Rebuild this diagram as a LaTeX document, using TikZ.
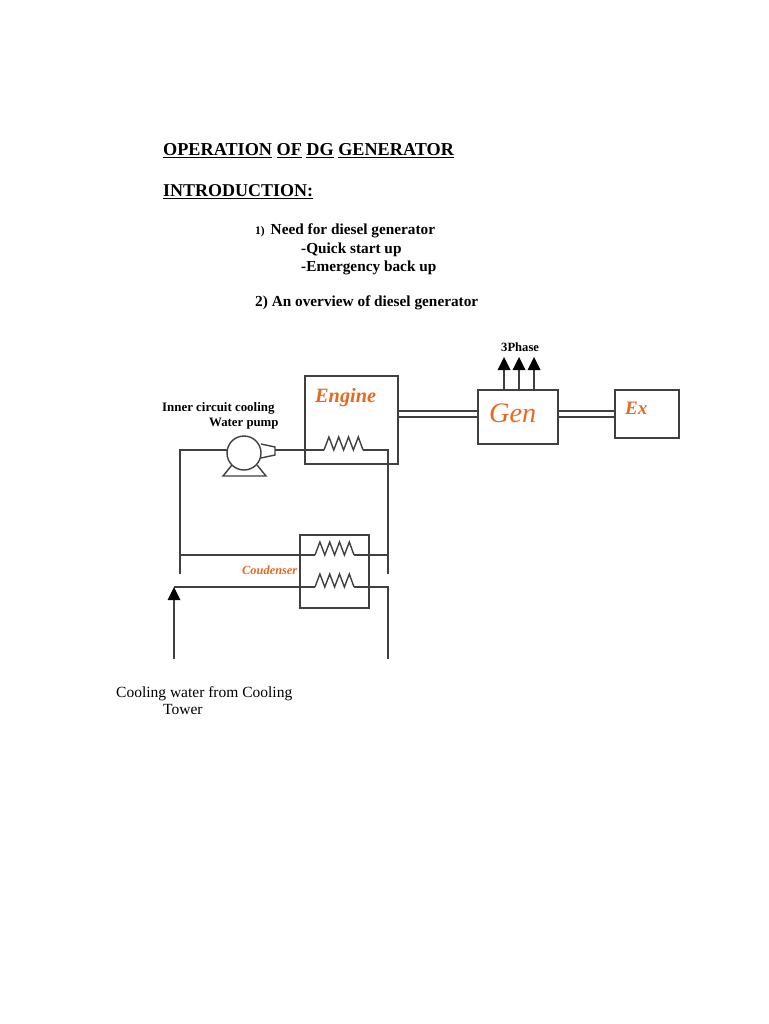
\documentclass[tikz,border=0pt]{standalone}
\usepackage{fontspec}
\setmainfont{Liberation Serif}
\definecolor{orng}{HTML}{E8691E}
\definecolor{ln}{HTML}{404040}
\tikzset{
  wire/.style={draw=ln,line width=1.4pt,line join=miter},
  txt/.style={anchor=base west,inner sep=0pt,text=black},
  orangetxt/.style={anchor=base west,inner sep=0pt,text=orng},
  headtip/.style={fill=black,draw=none},
  pics/coil/.style={code={
    \draw[wire] (0,0) -- (4.9,-13) -- (9.8,0) -- (14.7,-13) -- (19.6,0) -- (24.5,-13) -- (29.4,0) -- (34.3,-13) -- (39,0);
  }}
}
\begin{document}
\begin{tikzpicture}[x=1pt,y=-1pt]
\useasboundingbox (0,0) rectangle (768,1024);
\fill[white] (0,0) rectangle (768,1024);
% text
\node[txt,font=\fontsize{18.2}{20}\selectfont\bfseries] (title) at (163,156) {\underline{OPERATION} \underline{OF} \underline{DG} \underline{GENERATOR}};
\node[txt,font=\fontsize{18}{20}\selectfont\bfseries] (intro) at (163,196.5) {\underline{INTRODUCTION:}};
\node[txt,font=\fontsize{11.5}{14}\selectfont\bfseries] (n1) at (255,235) {1)};
\node[txt,font=\fontsize{15.3}{16}\selectfont\bfseries] (need) at (270.5,235) {Need for diesel generator};
\node[txt,font=\fontsize{15.3}{16}\selectfont\bfseries] (quick) at (301,253) {-Quick start up};
\node[txt,font=\fontsize{15.3}{16}\selectfont\bfseries] (emerg) at (301,271) {-Emergency back up};
\node[txt,font=\fontsize{15.3}{16}\selectfont\bfseries] (over) at (255,306) {2) An overview of diesel generator};
\node[txt,font=\fontsize{12.6}{13}\selectfont\bfseries] (ph) at (501,351) {3Phase};
\node[txt,font=\fontsize{12.9}{14}\selectfont\bfseries] (inner) at (162,411.5) {Inner circuit cooling};
\node[txt,font=\fontsize{12.8}{14}\selectfont\bfseries] (wp) at (209,426.5) {Water pump};
\node[txt,font=\fontsize{15.5}{16}\selectfont] (cw) at (116,697) {Cooling water from Cooling};
\node[txt,font=\fontsize{15.5}{16}\selectfont] (tw) at (163,714) {Tower};
\node[orangetxt,font=\fontsize{20.3}{22}\selectfont\bfseries\itshape] (engt) at (315,402) {Engine};
\node[orangetxt,font=\fontsize{28.2}{32}\selectfont\itshape] (gent) at (489,422) {Gen};
\node[orangetxt,font=\fontsize{19}{21}\selectfont\bfseries\itshape] (ext) at (625,414) {Ex};
\node[orangetxt,font=\fontsize{12.4}{14}\selectfont\bfseries\itshape] (cond) at (242,574.5) {Coudenser};
% boxes
\coordinate (engA) at (305,376); \coordinate (engB) at (398,464);
\coordinate (genA) at (478,390); \coordinate (genB) at (558,444);
\coordinate (exA) at (615,390); \coordinate (exB) at (679,438);
\coordinate (conA) at (300,535); \coordinate (conB) at (369,608);
\draw[wire] (engA) rectangle (engB);
\draw[wire] (genA) rectangle (genB);
\draw[wire] (exA) rectangle (exB);
\draw[wire] (conA) rectangle (conB);
% shafts
\foreach \y in {411,417}{
  \draw[wire] (398,\y) -- (478,\y);
  \draw[wire] (558,\y) -- (615,\y);
}
% phases
\foreach \x in {504,519,534}{
  \draw[wire] (\x,390) -- (\x,368);
  \fill[headtip] (\x,357) -- (\x+6.5,370) -- (\x-6.5,370) -- cycle;
}
% pump
\node[draw=ln,line width=1.4pt,circle,minimum size=34pt,inner sep=0pt] (pump) at (244,453) {};
\draw[wire] (261,444) -- (275,447) -- (275,455) -- (261,458);
\draw[wire] (232,465) -- (223,476) -- (266,476) -- (257,465);
% coils
\pic at (324,450) {coil};
\pic at (315,555) {coil};
\pic at (315,587) {coil};
% pipes
\coordinate (a1) at (227,450); \coordinate (a2) at (180,450); \coordinate (a3) at (180,574);
\coordinate (b1) at (275,450); \coordinate (b2) at (324,450);
\coordinate (c1) at (363,450); \coordinate (c2) at (388,450); \coordinate (c3) at (388,574);
\coordinate (d1) at (180,555); \coordinate (d2) at (315,555); \coordinate (d3) at (354,555); \coordinate (d4) at (388,555);
\coordinate (e1) at (174,587); \coordinate (e2) at (315,587); \coordinate (e3) at (354,587); \coordinate (e4) at (388,587); \coordinate (e5) at (388,659);
\coordinate (f1) at (174,659); \coordinate (f2) at (174,598);
\draw[wire] (a1) -- (a2) -- (a3);
\draw[wire] (b1) -- (b2);
\draw[wire] (c1) -- (c2) -- (c3);
\draw[wire] (d1) -- (d2);
\draw[wire] (d3) -- (d4);
\draw[wire] (e1) -- (e2);
\draw[wire] (e3) -- (e4) -- (e5);
\draw[wire] (f1) -- (f2);
\fill[headtip] (174,587) -- (180.5,600) -- (167.5,600) -- cycle;
\end{tikzpicture}
\end{document}
